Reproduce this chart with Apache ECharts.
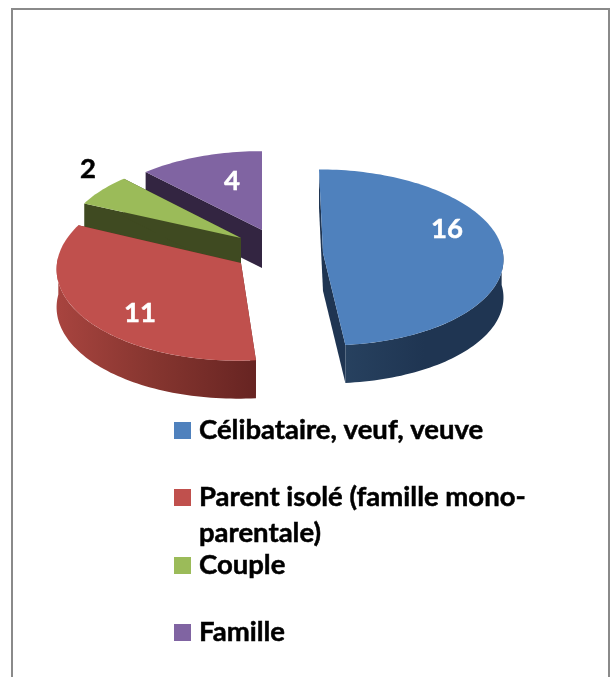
<!DOCTYPE html>
<html><head><meta charset="utf-8">
<style>html,body{margin:0;padding:0;background:#fff}#c{width:615px;height:677px}</style>
<script src="https://cdn.jsdelivr.net/npm/echarts@6/dist/echarts.min.js"></script>
</head><body><div id="c"></div>
<script>
const categories = ['Célibataire, veuf, veuve', 'Parent isolé (famille mono-\nparentale)', 'Couple', 'Famille'];
const values = [16, 11, 2, 4];

const topColors = ['#4F81BD', '#C0504D', '#9BBB59', '#8064A2'];
const sideColors = ['#1F3552', '#6B2724', '#3F4A21', '#332541'];
const arcStops = [['#27415F', '#1F3552', '#1F3552'], ['#A8443F', '#85352F', '#672422'], ['#3F4A21', '#3F4A21', '#3F4A21'], ['#332541', '#332541', '#332541']];
const labelColors = ['#fff', '#fff', '#000', '#fff'];
const geometry = [
  { cx: 323, cy: 253, rx: 180, ry: 88, skew: 0.048, h: 38 },
  { cx: 241, cy: 263, rx: 184, ry: 93, skew: -0.035, h: 38 },
  { cx: 241, cy: 238, rx: 176, ry: 85, skew: 0, h: 38 },
  { cx: 262, cy: 230, rx: 175, ry: 83, skew: 0, h: 38 }
];
const labelAnchors = [[447, 229], [140, 313], [88, 169], [232, 181]];
const legendTops = [412.5, 479.5, 547.5, 614.5];
const startAngle = -90, persp = 0.05, rad = Math.PI / 180;
const total = values.reduce((a, b) => a + b, 0);

function pt(g, deg, down) {
  const s = Math.sin(deg * rad), c = Math.cos(deg * rad), f = 1 + persp * s;
  const yRel = g.ry * s * f;
  return [g.cx + g.rx * c * f + g.skew * yRel, g.cy + yRel + down];
}
function arc(g, a, b, down) {
  const out = [], n = Math.max(2, Math.ceil(Math.abs(b - a) / 1.5));
  for (let i = 0; i <= n; i++) out.push(pt(g, a + (b - a) * i / n, down));
  return out;
}
function poly(points, fill) {
  return { type: 'polygon', shape: { points }, style: { fill, stroke: null } };
}
function renderSlice(idx) {
  return function (params, api) {
    const v = api.value(0);
    const before = values.slice(0, idx).reduce((a, b) => a + b, 0);
    const a = startAngle + before / total * 360, b = a + v / total * 360;
    const g = geometry[idx], apex = [g.cx, g.cy], apexDown = [g.cx, g.cy + g.h];
    const kids = [];
    const p0 = pt(g, a, 0), p1 = pt(g, b, 0);
    kids.push(poly([apex, p0, pt(g, a, g.h), apexDown], sideColors[idx]));
    kids.push(poly([apex, p1, pt(g, b, g.h), apexDown], sideColors[idx]));
    const w0 = Math.max(a, -4), w1 = Math.min(b, 184);
    if (w1 > w0) {
      const stops = arcStops[idx];
      kids.push(poly(arc(g, w0, w1, 0).concat(arc(g, w1, w0, g.h)), {
        type: 'linear', x: 0, y: 0, x2: 1, y2: 0,
        colorStops: [{ offset: 0, color: stops[0] }, { offset: 0.5, color: stops[1] }, { offset: 1, color: stops[2] }]
      }));
    }
    kids.push(poly([apex].concat(arc(g, a, b, 0)), topColors[idx]));
    kids.push({
      type: 'text',
      style: {
        x: labelAnchors[idx][0], y: labelAnchors[idx][1], text: String(v),
        fill: labelColors[idx], font: 'bold 27.5px Lato', textAlign: 'center', textVerticalAlign: 'middle',
        stroke: labelColors[idx], lineWidth: 0.5
      }
    });
    return { type: 'group', children: kids };
  };
}

const drawOrder = [3, 2, 1, 0];
const chart = echarts.init(document.getElementById('c'), null, { renderer: 'canvas' });
chart.setOption({
  animation: false,
  backgroundColor: '#fff',
  graphic: [{
    type: 'rect', silent: true, z: -1,
    shape: { x: 12, y: 9, width: 597, height: 700 },
    style: { fill: '#fff', stroke: '#8A8A8A', lineWidth: 2 }
  }],
  legend: categories.map((name, i) => ({
    data: [{
      name,
      icon: i === 1 ? 'path://M0 0H17V17H0Z M0 53L0.01 53L0 53Z' : 'rect'
    }],
    orient: 'vertical', left: 174, top: legendTops[i], padding: 0,
    itemWidth: 17, itemHeight: i === 1 ? 53 : 17, selectedMode: false,
    textStyle: { fontFamily: 'Lato', fontWeight: 'bold', fontSize: 27.5, lineHeight: 36, color: '#000', padding: [0, 0, 0, 3], textBorderColor: '#000', textBorderWidth: 0.5 }
  })),
  series: drawOrder.map(i => ({
    type: 'custom', name: categories[i], coordinateSystem: 'none', z: 2 + drawOrder.indexOf(i),
    itemStyle: { color: topColors[i] },
    renderItem: renderSlice(i), data: [[values[i]]], silent: true
  }))
});
</script></body></html>
